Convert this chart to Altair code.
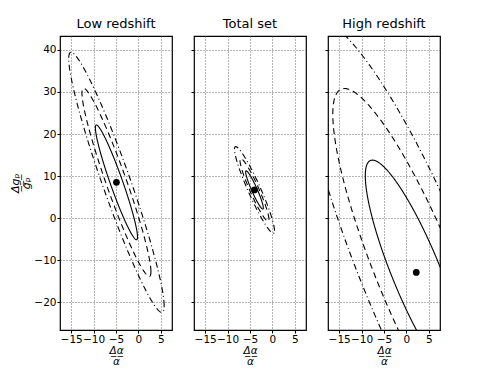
import numpy as np
import pandas as pd
import altair as alt

# --- data ---
panels = ["Low redshift", "Total set", "High redshift"]
center_x = [-4.9, -4.0, 2.2]
center_y = [8.5, 6.7, -12.9]
sigma_x = [3.1, 1.3, 7.5]
sigma_y = [9.0, 3.0, 17.6]
rho = [-0.95, -0.94, -0.86]
levels = ["1sigma", "2sigma", "3sigma"]
delta_chi2 = [2.30, 6.17, 11.8]
dashes = [[1, 0], [6, 4], [6, 3, 1, 3]]

x_ticks = [-15, -10, -5, 0, 5]
y_ticks = [-20, -10, 0, 10, 20, 30, 40]
x_domain = [-17.5, 7.5]
y_domain = [-26.6, 43.3]

# contour tables built from the parameters
rows = []
t = np.linspace(0, 2 * np.pi, 241)
for p, name in enumerate(panels):
    for lev, d2 in zip(levels, delta_chi2):
        k = np.sqrt(d2)
        xs = center_x[p] + k * sigma_x[p] * np.cos(t)
        ys = center_y[p] + k * sigma_y[p] * (rho[p] * np.cos(t) + np.sqrt(1 - rho[p] ** 2) * np.sin(t))
        for i, (a, b) in enumerate(zip(xs, ys)):
            rows.append({"panel": name, "level": lev, "i": i, "x": float(a), "y": float(b)})
contours = pd.DataFrame(rows)
centers = pd.DataFrame({"panel": panels, "x": center_x, "y": center_y})

xscale = alt.Scale(domain=x_domain, nice=False, zero=False)
yscale = alt.Scale(domain=y_domain, nice=False, zero=False)
FONT = "DejaVu Sans"


def panel(name, first):
    xaxis = alt.Axis(values=x_ticks, title=["Δ̲α̲", "α"], titleFontStyle="italic",
                     titleFontSize=10.5, titleLineHeight=10.5, titleFontWeight="normal",
                     labelOverlap=False, titlePadding=1)
    if first:
        yaxis = alt.Axis(values=y_ticks, title=["Δ̲g̲ₚ̲", "gₚ"], titleFontStyle="italic",
                         titleFontSize=11, titleLineHeight=11.5, titleFontWeight="normal",
                         titleAngle=270, titlePadding=2)
    else:
        yaxis = alt.Axis(values=y_ticks, title=None, labels=False)
    lines = alt.Chart(contours[contours.panel == name]).mark_line(
        color="black", strokeWidth=1.1, clip=True
    ).encode(
        x=alt.X("x:Q", scale=xscale, axis=xaxis),
        y=alt.Y("y:Q", scale=yscale, axis=yaxis),
        order="i:Q",
        detail="level:N",
        strokeDash=alt.StrokeDash("level:N", scale=alt.Scale(domain=levels, range=dashes), legend=None),
    )
    dot = alt.Chart(centers[centers.panel == name]).mark_circle(
        color="black", opacity=1, size=45, clip=True
    ).encode(x=alt.X("x:Q", scale=xscale, axis=xaxis), y=alt.Y("y:Q", scale=yscale, axis=yaxis))
    return alt.layer(lines, dot).properties(
        width=112, height=294,
        title=alt.TitleParams(name, fontSize=13, font=FONT, fontWeight="normal", color="black", offset=5),
    )


chart = alt.hconcat(
    panel(panels[0], True), panel(panels[1], False), panel(panels[2], False), spacing=16
).properties(
    padding={"left": 0, "top": 9, "right": 5, "bottom": 0}
).configure_view(
    stroke="black", strokeWidth=1.2
).configure_axis(
    labelFont=FONT, labelFontSize=10.5, labelColor="black", titleFont=FONT, titleColor="black",
    gridColor="#444444", gridDash=[1, 2], gridWidth=0.8, gridOpacity=1,
    tickColor="black", tickSize=3, domain=False, labelPadding=1, labelOverlap=False,
)

chart.save("out.html", embed_options={"renderer": "svg", "actions": False})
